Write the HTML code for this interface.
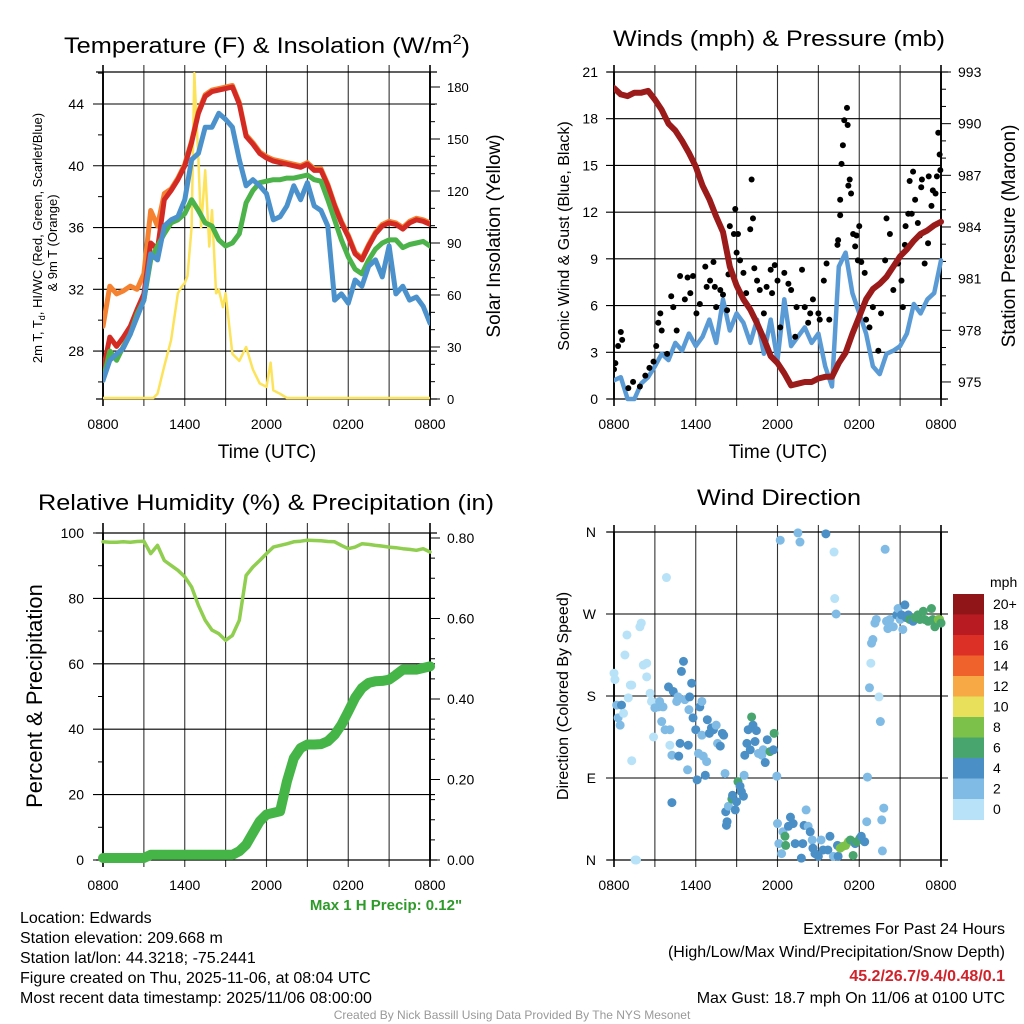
<!DOCTYPE html>
<html><head><meta charset="utf-8">
<style>
html,body{margin:0;padding:0;background:#fff;}
svg{display:block;font-family:"Liberation Sans",Arial,sans-serif;}
</style></head>
<body>
<svg id="fig" width="1024" height="1024" viewBox="0 0 1024 1024" xmlns="http://www.w3.org/2000/svg">
<rect width="1024" height="1024" fill="#fff"/>
<g id="p1"></g>
<g id="p2"></g>
<g id="p3"></g>
<g id="p4"></g>

<text x="267" y="53" font-size="22" text-anchor="middle" textLength="406" lengthAdjust="spacingAndGlyphs">Temperature (F) &amp; Insolation (W/m<tspan font-size="14" dy="-9">2</tspan><tspan dy="9">)</tspan></text>
<text x="779" y="46" font-size="22" text-anchor="middle" textLength="332" lengthAdjust="spacingAndGlyphs">Winds (mph) &amp; Pressure (mb)</text>
<text x="266" y="510" font-size="22" text-anchor="middle" textLength="456" lengthAdjust="spacingAndGlyphs">Relative Humidity (%) &amp; Precipitation (in)</text>
<text x="779" y="505" font-size="22" text-anchor="middle" textLength="164" lengthAdjust="spacingAndGlyphs">Wind Direction</text>

<text x="267" y="458" font-size="19" text-anchor="middle">Time (UTC)</text>
<text x="778" y="458" font-size="19" text-anchor="middle">Time (UTC)</text>

<text transform="translate(42,238) rotate(-90)" font-size="13" text-anchor="middle">2m T, T<tspan font-size="9" dy="3">d</tspan><tspan dy="-3">, HI/WC (Red, Green, Scarlet/Blue)</tspan></text>
<text transform="translate(57,243) rotate(-90)" font-size="13" text-anchor="middle">&amp; 9m T (Orange)</text>
<text transform="translate(500,236) rotate(-90)" font-size="19" text-anchor="middle">Solar Insolation (Yellow)</text>
<text transform="translate(569,236) rotate(-90)" font-size="16" text-anchor="middle">Sonic Wind &amp; Gust (Blue, Black)</text>
<text transform="translate(1015,236) rotate(-90)" font-size="19" text-anchor="middle">Station Pressure (Maroon)</text>
<text transform="translate(42,696) rotate(-90)" font-size="22" text-anchor="middle">Percent &amp; Precipitation</text>
<text transform="translate(568,696) rotate(-90)" font-size="16" text-anchor="middle">Direction (Colored By Speed)</text>

<text x="386" y="910" font-size="15" font-weight="bold" fill="#2e9a2a" text-anchor="middle">Max 1 H Precip: 0.12"</text>

<g font-size="16">
<text x="20" y="923">Location: Edwards</text>
<text x="20" y="943">Station elevation: 209.668 m</text>
<text x="20" y="963">Station lat/lon: 44.3218; -75.2441</text>
<text x="20" y="983">Figure created on Thu, 2025-11-06, at 08:04 UTC</text>
<text x="20" y="1003">Most recent data timestamp: 2025/11/06 08:00:00</text>
</g>
<g font-size="16" text-anchor="end">
<text x="1005" y="934">Extremes For Past 24 Hours</text>
<text x="1005" y="957">(High/Low/Max Wind/Precipitation/Snow Depth)</text>
<text x="1005" y="981" font-weight="bold" fill="#d0222a">45.2/26.7/9.4/0.48/0.1</text>
<text x="1005" y="1003">Max Gust: 18.7 mph On 11/06 at 0100 UTC</text>
</g>
<text x="512" y="1019" font-size="12" fill="#999" text-anchor="middle">Created By Nick Bassill Using Data Provided By The NYS Mesonet</text>
</svg>

<script>
// ---------- data (half-hour steps from 0800 UTC) ----------
const timeLabels = ["0800","1400","2000","0200","0800"];
const tempRed = [26.7,28.9,28.3,28.9,29.6,30.7,31.7,35.0,34.6,37.8,38.4,39.1,40,41.5,43.4,44.5,44.8,44.9,45,45.1,44,41.9,41.4,40.8,40.5,40.3,40.2,40.1,40,39.9,40.1,39.7,39.7,38.7,37.4,36.3,35.4,34.3,33.9,34.8,35.6,36.1,36.3,36.2,35.9,36.3,36.5,36.4,36.2];
const tempOrange = [29.6,32.2,31.7,31.9,32.2,32.0,33.0,37.1,36.1,38.2,38.5,39.2,40.1,41.6,43.5,44.6,44.9,45.0,45.1,45.2,44.1,42.0,41.5,40.9,40.6,40.4,40.3,40.2,40.1,40.0,40.2,39.8,39.8,38.8,37.5,36.4,35.5,34.4,34.0,34.9,35.7,36.2,36.4,36.3,36.0,36.4,36.6,36.5,36.3];
const tempGreen = [26.1,28,27.4,28.3,29.1,30.4,31.3,33.9,34.8,35.6,36.3,36.5,36.9,37.8,37.1,36.3,36.1,35.2,34.8,35,35.6,37.6,38.4,38.9,39,39.1,39.1,39.2,39.2,39.3,39.4,39.1,39,37.8,36.5,35.2,34.1,33.3,33,33.9,34.6,35,35.2,35.2,34.7,34.9,35,35.1,34.8];
const tempBlue = [26.1,27.4,27.8,28.2,29.1,30.2,31.3,34.3,33.9,36.1,36.5,36.7,37.8,40.4,40.8,42.5,42.5,43.4,43,42.5,40.4,38.7,39.1,38.7,38.2,36.5,36.7,37.4,38.7,37.8,38.9,37.4,37.1,36.1,31.3,31.7,31.1,32.6,32.2,33.5,33.9,32.8,34.8,31.7,32.2,31.3,31.5,30.9,29.8];
const solarHours = [0,3.7,4,4.5,5,5.5,5.8,6,6.2,6.5,6.7,7,7.2,7.5,7.8,8,8.3,8.5,8.8,9,9.5,10,10.5,11,11.5,12,12.3,12.5,13,13.5,24];
const solarVals = [0,0,3,19,34,61,65,67,71,99,188,138,99,132,88,109,61,63,53,61,26,22,30,17,9,7,21,5,3,0,0];
const tempTicks = [28,32,36,40,44];
const solarTicks = [0,30,60,90,120,150,180];

const windSpeed = [1.2,1.4,0,0,1,1.4,2.1,2.9,2.5,3.6,3.1,4.2,3.4,4,5.1,3.6,6.4,4.4,5.5,4.9,3.6,5.1,2.9,5.1,2.5,6.4,3.4,4,4.6,3.6,4.2,2.1,0.8,8.5,9.4,6.8,5.5,4.2,2.1,1.6,2.9,3.1,3.4,4.2,6.1,5.5,6.4,6.8,8.9];
const pressure = [992.07,991.7,991.6,991.8,991.8,991.9,991.4,990.8,990,989.6,989,988.3,987.5,986.4,985.6,984.6,983.7,981.7,980.6,979.8,979.2,978.4,977.5,976.5,976.1,975.5,974.8,974.9,975,975,975.2,975.3,975.3,976.1,976.7,977.8,978.8,979.8,980.4,980.7,981.1,981.7,982.3,982.7,983.2,983.6,983.8,984.1,984.3];
const gustHours = [0,0.1,0.3,0.5,0.6,1.05,1.4,1.9,2.3,2.6,2.9,3.1,3.25,3.4,3.5,3.9,4.2,4.35,4.6,4.85,5.2,5.4,5.6,5.8,6.05,6.3,6.7,6.8,7.05,7.3,7.4,7.5,7.8,8,8.3,8.4,8.5,8.8,8.9,9,9.1,9.25,9.5,9.7,10,10.1,10.2,10.3,10.5,10.7,11,11.2,11.5,11.6,11.8,12,12.2,12.5,12.8,13,13.3,13.4,13.8,14,14.25,14.4,14.6,15,15.1,15.4,15.6,15.8,16.4,16.45,16.6,16.6,16.7,16.8,16.9,17.1,17.15,17.2,17.3,17.4,17.55,17.7,17.8,17.9,18,18.15,18.4,18.5,18.75,19,19.4,19.6,19.9,20,20.25,20.5,20.85,21.1,21.2,21.35,21.4,21.6,21.7,21.85,21.95,22.1,22.3,22.45,22.55,22.6,22.8,23.05,23.1,23.3,23.4,23.6,23.7,23.8,23.9,23.95];
const gustVals = [1.9,2.3,3.4,4.3,3.8,0.7,1.1,0.8,1.5,2,2.4,3.4,4.9,5.5,4.4,2.9,6.6,5.9,4.4,7.9,6.4,7.8,6.8,7.9,5.5,6.1,8.5,7.2,7.6,8.8,7.2,5.9,7,6.7,5.7,8,11.1,10.6,12.2,9.4,10.6,8.9,8.1,6.8,10.9,14.1,11.6,8.4,7.6,7,5.5,7.2,8.3,6.8,8.6,7.6,4.6,8.1,7.4,7,4,5.9,8.3,5.9,4.9,5.5,6.4,5.5,5.1,7.6,8.7,5.1,9.9,10.2,12.8,11.8,15.1,16.3,17.9,18.7,17.6,13.7,14.1,13.2,10.6,9.8,10.5,8.9,11.1,8.8,8.1,5.1,4.6,5.9,3.1,5.5,8.9,11.6,10.6,7,8.7,7.6,5.9,9.9,11.1,11.9,14,11.9,14.6,12.8,11.3,10.5,13.6,14.1,8.7,10,14.3,12.4,13.4,13.2,14.3,17.1,15.7,14.7];
const windTicks = [0,3,6,9,12,15,18,21];
const pressTicks = [975,978,981,984,987,990,993];

const rhVals = [97.3,97.2,97.2,97.3,97.2,97.4,97.5,93.7,96.2,91.6,90.1,88.6,86.6,83.5,77.9,73.3,70.3,69.2,67.2,68.7,73.3,87,89.6,91.6,93.7,95.7,96.2,96.7,97.3,97.5,97.8,97.7,97.6,97.4,97.3,96.2,95.2,95.7,96.7,96.5,96.2,96,95.7,95.5,95.2,95,94.7,95.2,94.2];
const precipVals = [0,0,0,0,0,0,0,0.008,0.008,0.008,0.008,0.008,0.008,0.008,0.008,0.008,0.008,0.008,0.008,0.008,0.017,0.033,0.062,0.091,0.108,0.112,0.116,0.19,0.248,0.273,0.282,0.282,0.283,0.29,0.306,0.331,0.364,0.398,0.422,0.435,0.439,0.44,0.443,0.455,0.468,0.468,0.468,0.472,0.476];
const rhTicks = [0,20,40,60,80,100];
const precipTicks = ["0.00","0.20","0.40","0.60","0.80"];

const dirHours = [0,0.07,0.2,0.3,0.45,0.55,0.7,0.8,0.95,1.05,1.2,1.3,1.3,1.55,1.65,1.9,2.0,2.15,2.4,2.4,2.65,2.75,2.9,3.0,3.25,3.35,3.5,3.6,3.75,3.85,4.0,4.1,4.1,4.25,4.25,4.35,4.6,4.7,4.85,4.75,4.95,5.1,5.2,5.4,5.45,5.5,5.55,5.7,5.8,6.0,6.1,6.2,6.3,6.45,6.45,6.55,6.7,6.8,6.85,7.0,7.15,7.3,7.5,7.6,7.8,7.95,8.05,8.15,8.2,8.25,8.3,8.4,8.65,8.7,8.9,9.0,9.1,9.25,9.35,9.5,9.55,9.6,9.75,9.85,10.0,10.1,10.2,10.35,10.45,10.6,10.85,10.95,11.1,11.25,11.45,11.7,11.75,11.95,12.0,12.1,12.2,12.3,12.4,12.55,12.6,12.8,12.95,13.15,13.3,13.5,13.65,13.75,13.85,13.95,14.1,14.25,14.4,14.55,14.6,14.75,15.0,15.2,15.35,15.55,15.7,15.85,16.1,16.15,16.2,16.3,16.4,16.45,16.6,16.8,17.0,17.2,17.35,17.55,17.7,17.8,18.05,18.15,18.4,18.55,18.6,18.75,18.85,18.9,19.0,19.15,19.25,19.45,19.55,19.65,19.7,19.8,19.9,20.0,20.1,20.25,20.5,20.75,20.85,21.0,21.1,21.2,21.35,21.45,21.6,21.7,21.85,21.95,22.1,22.2,22.3,22.45,22.7,22.8,23.05,23.3,23.4,23.55,23.8,23.9,24.0];
const dirVals = [205,198,170,156,148,170,161,225,247,178,192,192,109,0,0,256,260,214,216,201,183,174,135,167,168,174,152,168,143,310,190,126,143,63,115,185,174,179,128,114,207,218,176,99,126,165,179,194,156,143,88,117,168,174,137,114,93,108,154,139,145,143,148,128,125,139,137,95,53,38,42,59,67,71,55,64,86,81,75,70,93,115,128,143,121,157,148,130,142,117,115,121,107,132,119,121,139,92,40,18,351,7,31,26,16,37,47,40,18,359,349,2,18,38,55,37,31,22,13,7,4,22,11,358,11,26,4,338,287,270,16,4,13,15,16,20,22,5,18,20,24,26,20,42,91,189,216,238,242,260,264,179,152,44,10,57,341,262,254,264,256,269,276,264,269,253,280,266,269,264,264,262,266,267,269,264,273,264,262,276,264,256,264,264,260];
const dirSpeed = [1,1,3,3,3,5,1,1,1,1,1,1,1,1,1,1,1,1,1,1,1,1,1,3,3,3,3,3,3,1,5,1,3,5,3,5,3,3,5,5,5,5,3,3,5,3,5,5,5,5,5,3,5,3,3,3,5,3,5,5,5,5,3,3,5,5,5,3,5,5,5,3,7,5,5,5,7,5,5,5,3,5,5,5,5,7,5,5,5,3,3,3,5,5,7,5,7,3,3,3,3,3,3,7,7,5,5,5,5,3,3,5,5,5,3,3,5,3,5,5,5,3,5,5,5,5,3,1,1,3,5,5,9,9,9,9,7,7,5,7,7,5,5,3,3,3,1,3,3,3,3,1,3,3,3,3,3,3,3,3,3,5,3,3,5,3,5,5,5,7,7,5,7,7,7,7,7,7,7,7,7,7,9,9,7];
const dirTicks = ["N","E","S","W","N"];
const speedColors = ["#b7e2f7","#7fbbe5","#4a8fc6","#48a56d","#7cc14a","#e8e05a","#f6a945","#f0622b","#dc3027","#b81c22","#8f1519"];
const speedLabels = ["0","2","4","6","8","10","12","14","16","18","20+"];

// ---------- helpers ----------
const NS = "http://www.w3.org/2000/svg";
function mk(parent, tag, attrs, name) {
  const el = document.createElementNS(NS, tag);
  for (const k in attrs) el.setAttribute(k, attrs[k]);
  
  
  parent.appendChild(el);
  return el;
}
function txt(parent, x, y, s, size, anchor, name) {
  const el = mk(parent, "text", {x: x, y: y, "font-size": size, "text-anchor": anchor}, name);
  el.textContent = s;
  return el;
}
function frame(g, L, T, R, B, ext) {
  for (let i = 0; i <= 8; i++) {
    const x = L + (R - L) * i / 8;
    mk(g, "line", {x1: x, x2: x, y1: T - ext, y2: B + 7, stroke: (i===0||i===8)?"#000":"#333", "stroke-width": (i===0||i===8)?1.6:1.1}, "x-grid-line");
  }
  for (let i = 0; i < timeLabels.length; i++) {
    const x = L + (R - L) * i / 4;
    txt(g, x, B + 30, timeLabels[i], 14, "middle", "x-tick-label");
  }
  mk(g, "line", {x1: L - 7, x2: R + 7, y1: T, y2: T, stroke: "#000", "stroke-width": 1.3}, "plot-top-border");
  mk(g, "line", {x1: L - 7, x2: R + 7, y1: B, y2: B, stroke: "#000", "stroke-width": 1.3}, "plot-bottom-border");
}
function poly(g, pts, color, w, name) {
  return mk(g, "polyline", {points: pts.map(p => p[0].toFixed(1) + "," + p[1].toFixed(1)).join(" "), fill: "none", stroke: color, "stroke-width": w, "stroke-linejoin": "round", "stroke-linecap": "round"}, name);
}

// ---------- panel 1: temperature ----------
(function(){
  const g = document.getElementById("p1");
  const L = 103, R = 430, T = 72, B = 399;
  const x = h => L + h * (R - L) / 24;
  const yT = v => 104 + (44 - v) * 15.44;
  const yS = v => 399 - v * 1.7333;
  frame(g, L, T, R, B, 7);
  tempTicks.forEach(v => {
    mk(g, "line", {x1: L - 10, x2: R + 7, y1: yT(v), y2: yT(v), stroke: "#000", "stroke-width": 1.1}, "temp-grid-line");
    txt(g, 84, yT(v) + 5, String(v), 14, "end", "temp-tick-label");
  });
  [26,30,34,38,42,46].forEach(v => mk(g, "line", {x1: L - 5, x2: L, y1: yT(v), y2: yT(v), stroke: "#000"}, "temp-minor-tick"));
  solarTicks.forEach(v => {
    mk(g, "line", {x1: R, x2: R + 10, y1: yS(v), y2: yS(v), stroke: "#000"}, "solar-tick");
    txt(g, 447, yS(v) + 5, String(v), 13, "start", "solar-tick-label");
  });
  for (let v = 10; v < 190; v += 10) if (v % 30) mk(g, "line", {x1: R, x2: R + 5, y1: yS(v), y2: yS(v), stroke: "#000"}, "solar-minor-tick");
  mk(g, "line", {x1: L, x2: L, y1: T, y2: B, stroke: "#000", "stroke-width": 1.8}, "left-axis");
  mk(g, "line", {x1: R, x2: R, y1: T, y2: B, stroke: "#000", "stroke-width": 1.8}, "right-axis");
  const clip = mk(g, "clipPath", {id: "c1"}, "clip");
  mk(clip, "rect", {x: L, y: T - 2, width: R - L, height: B - T + 6}, "clip-rect");
  const d = mk(g, "g", {"clip-path": "url(#c1)"}, "temperature-series");
  poly(d, solarHours.map((h, i) => [x(h), Math.min(yS(solarVals[i]), 398)]), "#fce35a", 2.5, "solar-insolation-line");
  poly(d, tempOrange.map((v, i) => [x(i * 0.5), yT(v)]), "#f58231", 5, "temp-9m-line");
  poly(d, tempRed.map((v, i) => [x(i * 0.5), yT(v)]), "#d42a24", 5, "temp-2m-line");
  poly(d, tempGreen.map((v, i) => [x(i * 0.5), yT(v)]), "#4cb24a", 5, "dewpoint-line");
  poly(d, tempBlue.map((v, i) => [x(i * 0.5), yT(v)]), "#4b91cc", 5, "wind-chill-line");
})();

// ---------- panel 2: winds ----------
(function(){
  const g = document.getElementById("p2");
  const L = 614, R = 941, T = 72, B = 399;
  const x = h => L + h * (R - L) / 24;
  const yW = v => 399 - v * 15.571;
  const yP = p => 72 + (993 - p) * 17.22;
  frame(g, L, T, R, B, 7);
  windTicks.forEach(v => {
    mk(g, "line", {x1: L - 8, x2: R, y1: yW(v), y2: yW(v), stroke: "#000", "stroke-width": 1.1}, "wind-grid-line");
    txt(g, 598, yW(v) + 5, String(v), 14, "end", "wind-tick-label");
  });
  pressTicks.forEach(v => {
    mk(g, "line", {x1: R, x2: R + 10, y1: yP(v), y2: yP(v), stroke: "#000"}, "pressure-tick");
    txt(g, 958, yP(v) + 5, String(v), 14, "start", "pressure-tick-label");
  });
  for (let v = 974; v <= 993; v++) if ((v - 975) % 3) mk(g, "line", {x1: R, x2: R + 5, y1: yP(v), y2: yP(v), stroke: "#000"}, "pressure-minor-tick");
  mk(g, "line", {x1: L, x2: L, y1: T, y2: B, stroke: "#000", "stroke-width": 1.8}, "left-axis");
  mk(g, "line", {x1: R, x2: R, y1: T, y2: B, stroke: "#000", "stroke-width": 1.8}, "right-axis");
  const clip = mk(g, "clipPath", {id: "c2"}, "clip");
  mk(clip, "rect", {x: L, y: T - 2, width: R - L + 4, height: B - T + 6}, "clip-rect");
  const d = mk(g, "g", {"clip-path": "url(#c2)"}, "wind-series");
  poly(d, windSpeed.map((v, i) => [x(i * 0.5), yW(v)]), "#5b9bd5", 4.5, "sonic-wind-line");
  gustHours.forEach((h, i) => {
    const c = mk(d, "circle", {cx: x(h), cy: yW(gustVals[i]), r: 3, fill: "#000"}, "gust-point");
    
  });
  poly(d, pressure.map((v, i) => [x(i * 0.5), yP(v)]), "#9b1a1a", 6, "pressure-line");
})();

// ---------- panel 3: humidity ----------
(function(){
  const g = document.getElementById("p3");
  const L = 103, R = 430, T = 533, B = 860;
  const x = h => L + h * (R - L) / 24;
  const yH = v => 860 - v * 3.27;
  const yPr = v => 860 - v * 402.5;
  frame(g, L, T, R, B, 10);
  rhTicks.forEach(v => {
    mk(g, "line", {x1: L - 10, x2: R + 5, y1: yH(v), y2: yH(v), stroke: "#000", "stroke-width": 1.1}, "rh-grid-line");
    txt(g, 84, yH(v) + 5, String(v), 14, "end", "rh-tick-label");
  });
  [10,30,50,70,90].forEach(v => mk(g, "line", {x1: L - 5, x2: L, y1: yH(v), y2: yH(v), stroke: "#000"}, "rh-minor-tick"));
  precipTicks.forEach(s => {
    const v = parseFloat(s);
    mk(g, "line", {x1: R, x2: R + 10, y1: yPr(v), y2: yPr(v), stroke: "#000"}, "precip-tick");
    txt(g, 447, yPr(v) + 5, s, 14, "start", "precip-tick-label");
  });
  for (let k = 1; k < 16; k++) if (k % 4) mk(g, "line", {x1: R, x2: R + 5, y1: yPr(k * 0.05), y2: yPr(k * 0.05), stroke: "#000"}, "precip-minor-tick");
  mk(g, "line", {x1: L, x2: L, y1: T, y2: B, stroke: "#000", "stroke-width": 1.8}, "left-axis");
  mk(g, "line", {x1: R, x2: R, y1: T, y2: B, stroke: "#000", "stroke-width": 1.8}, "right-axis");
  poly(g, rhVals.map((v, i) => [x(i * 0.5), yH(v)]), "#8fce4f", 3.5, "relative-humidity-line");
  poly(g, precipVals.map((v, i) => [x(i * 0.5), yPr(v) - 2]), "#46b548", 10, "precipitation-line");
})();

// ---------- panel 4: wind direction ----------
(function(){
  const g = document.getElementById("p4");
  const L = 614, R = 941, T = 532, B = 860;
  const x = h => L + h * (R - L) / 24;
  const yD = d => 860 - d * (B - T) / 360;
  frame(g, L, T, R, B, 7);
  dirTicks.forEach((s, i) => {
    const y = yD(i * 90);
    mk(g, "line", {x1: L - 8, x2: R + 7, y1: y, y2: y, stroke: "#000", "stroke-width": 1.1}, "direction-grid-line");
    txt(g, 596, y + 5, s, 14, "end", "direction-tick-label");
  });
  mk(g, "line", {x1: L, x2: L, y1: T, y2: B, stroke: "#000", "stroke-width": 1.8}, "left-axis");
  mk(g, "line", {x1: R, x2: R, y1: T, y2: B, stroke: "#000", "stroke-width": 1.8}, "right-axis");
  dirHours.forEach((h, i) => {
    const bin = Math.min(10, Math.floor(dirSpeed[i] / 2));
    const c = mk(g, "circle", {cx: x(h), cy: yD(dirVals[i]), r: 4.5, fill: speedColors[bin]}, "direction-point");
    
  });
  const cb = mk(g, "g", {}, "speed-colorbar");
  txt(cb, 990, 587, "mph", 14, "start", "colorbar-unit-label");
  const top = 594, bh = 20.5;
  for (let k = 0; k < speedColors.length; k++) {
    const idx = speedColors.length - 1 - k;
    mk(cb, "rect", {x: 953, y: top + k * bh, width: 31, height: bh + 0.5, fill: speedColors[idx]}, "colorbar-box");
    txt(cb, 993, top + k * bh + 15, speedLabels[idx], 14, "start", "colorbar-label");
  }
})();
</script>
</body></html>
